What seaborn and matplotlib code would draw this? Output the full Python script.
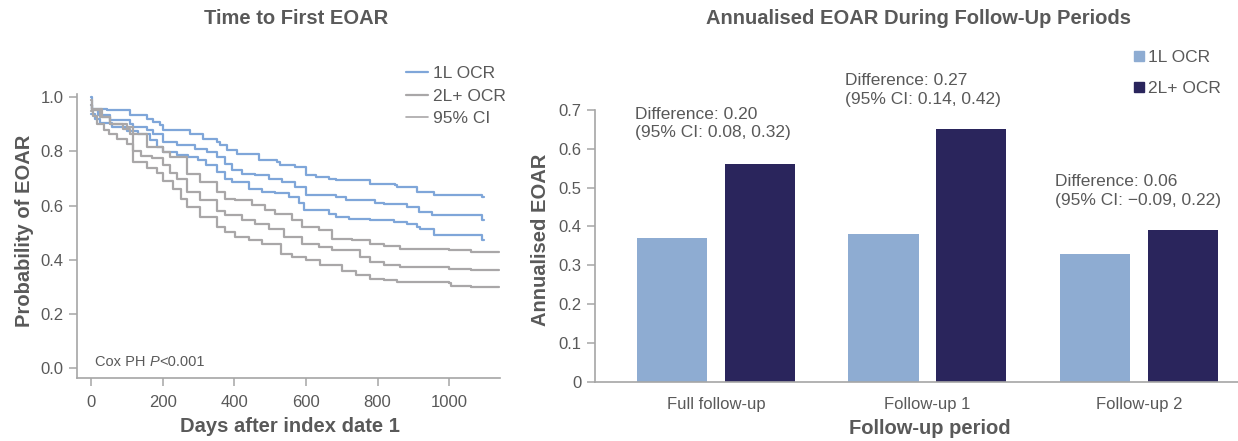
import numpy as np
import pandas as pd
import matplotlib
matplotlib.use("Agg")
import matplotlib.pyplot as plt
from matplotlib.lines import Line2D
from matplotlib.offsetbox import TextArea, HPacker, AnchoredOffsetbox
import seaborn as sns

# ---- Kaplan-Meier style curves: (day, probability) step points ----
ocr1_upper_days = [0, 3, 44, 109, 156, 174, 193, 202, 277, 314, 352, 361, 379, 408, 468, 519,
                   529, 571, 599, 627, 664, 683, 780, 850, 855, 911, 958, 1093, 1097]
ocr1_upper_prob = [1.0, 0.958, 0.952, 0.934, 0.921, 0.909, 0.897, 0.878, 0.866, 0.847, 0.835,
                   0.823, 0.804, 0.792, 0.770, 0.761, 0.749, 0.743, 0.712, 0.706, 0.700, 0.694,
                   0.681, 0.675, 0.669, 0.651, 0.638, 0.632, 0.632]

ocr1_est_days = [0, 2, 20, 53, 109, 118, 156, 174, 202, 240, 290, 324, 352, 375, 394, 421,
                 459, 496, 533, 571, 599, 683, 711, 794, 818, 883, 916, 953, 1093, 1097]
ocr1_est_prob = [0.97, 0.952, 0.934, 0.915, 0.903, 0.891, 0.878, 0.866, 0.835, 0.823, 0.810,
                 0.798, 0.780, 0.755, 0.731, 0.718, 0.712, 0.700, 0.688, 0.669, 0.638, 0.632,
                 0.620, 0.611, 0.607, 0.595, 0.577, 0.565, 0.548, 0.548]

ocr1_lower_days = [0, 11, 25, 58, 100, 130, 165, 185, 200, 240, 270, 300, 320, 352, 375, 394,
                   440, 477, 515, 552, 580, 594, 664, 683, 720, 780, 845, 883, 911, 920, 958,
                   1093, 1097]
ocr1_lower_prob = [0.94, 0.921, 0.905, 0.890, 0.875, 0.866, 0.841, 0.817, 0.798, 0.786, 0.780,
                   0.767, 0.749, 0.724, 0.700, 0.688, 0.663, 0.651, 0.645, 0.632, 0.608, 0.583,
                   0.571, 0.559, 0.552, 0.546, 0.540, 0.534, 0.521, 0.512, 0.491, 0.472, 0.472]

ocr2_upper_days = [0, 2, 30, 53, 100, 118, 156, 202, 221, 268, 305, 352, 375, 403, 449, 487,
                   515, 561, 589, 636, 673, 729, 780, 818, 864, 1000, 1060, 1139]
ocr2_upper_prob = [0.99, 0.958, 0.926, 0.902, 0.890, 0.866, 0.817, 0.798, 0.780, 0.718, 0.688,
                   0.651, 0.626, 0.620, 0.601, 0.583, 0.571, 0.546, 0.521, 0.509, 0.478, 0.472,
                   0.457, 0.450, 0.441, 0.435, 0.429, 0.429]

ocr2_est_days = [0, 2, 25, 53, 90, 110, 118, 140, 170, 200, 221, 240, 268, 305, 352, 375, 421,
                 459, 496, 540, 589, 636, 673, 750, 780, 818, 864, 1000, 1060, 1139]
ocr2_est_prob = [0.97, 0.952, 0.926, 0.902, 0.884, 0.866, 0.800, 0.785, 0.775, 0.750, 0.720,
                 0.700, 0.651, 0.620, 0.580, 0.565, 0.546, 0.534, 0.515, 0.485, 0.460, 0.448,
                 0.435, 0.410, 0.392, 0.382, 0.374, 0.368, 0.362, 0.362]

ocr2_lower_days = [0, 5, 16, 35, 50, 72, 100, 118, 156, 184, 202, 230, 250, 268, 305, 352, 375,
                   403, 440, 477, 530, 561, 600, 640, 700, 740, 780, 818, 855, 1000, 1005,
                   1060, 1139]
ocr2_lower_prob = [0.95, 0.930, 0.902, 0.880, 0.866, 0.845, 0.829, 0.760, 0.740, 0.720, 0.690,
                   0.660, 0.625, 0.595, 0.558, 0.521, 0.503, 0.485, 0.472, 0.460, 0.423, 0.411,
                   0.400, 0.380, 0.360, 0.345, 0.331, 0.325, 0.319, 0.313, 0.303, 0.300, 0.300]

# ---- Annualised EOAR bars ----
periods = ["Full follow-up", "Follow-up 1", "Follow-up 2"]
groups = ["1L OCR", "2L+ OCR"]
eoar_1l = [0.37, 0.38, 0.33]
eoar_2l = [0.56, 0.65, 0.39]
diff_text = ["Difference: 0.20\n(95% CI: 0.08, 0.32)",
             "Difference: 0.27\n(95% CI: 0.14, 0.42)",
             "Difference: 0.06\n(95% CI: \u22120.09, 0.22)"]

BLUE_LINE = "#7fa6d9"
GRAY_LINE = "#a9a7a8"
LIGHT_BAR = "#8eacd2"
DARK_BAR = "#2a255c"
TEXT = "#595959"
SPINE = "#a6a6a6"

W, H = 1238, 441

sns.set_theme(style="white")
plt.rcParams["font.family"] = ["Liberation Sans", "DejaVu Sans"]

fig = plt.figure(figsize=(W / 100, H / 100), dpi=100)
ax1 = fig.add_axes([77 / W, 1 - 378 / H, (500 - 77) / W, (378 - 94) / H])
ax2 = fig.add_axes([595 / W, 1 - 381.5 / H, (W - 595) / W, (381.5 - 110) / H])

# ---- left panel: survival curves ----
curves = [
    ("1L upper", ocr1_upper_days, ocr1_upper_prob, BLUE_LINE),
    ("1L est", ocr1_est_days, ocr1_est_prob, BLUE_LINE),
    ("1L lower", ocr1_lower_days, ocr1_lower_prob, BLUE_LINE),
    ("2L upper", ocr2_upper_days, ocr2_upper_prob, GRAY_LINE),
    ("2L est", ocr2_est_days, ocr2_est_prob, GRAY_LINE),
    ("2L lower", ocr2_lower_days, ocr2_lower_prob, GRAY_LINE),
]
for name, d, p, c in curves:
    df = pd.DataFrame({"day": d, "prob": p})
    sns.lineplot(data=df, x="day", y="prob", ax=ax1, color=c, lw=1.6,
                 drawstyle="steps-post", estimator=None, sort=False)

ax1.set_xlim(-39, 1142)
ax1.set_ylim(-0.036, 1.012)
ax1.set_xticks([0, 200, 400, 600, 800, 1000])
ax1.set_yticks([0.0, 0.2, 0.4, 0.6, 0.8, 1.0])
ax1.set_yticklabels(["0.0", "0.2", "0.4", "0.6", "0.8", "1.0"])
ax1.set_xlabel("Days after index date 1", fontsize=14.5, fontweight="bold", color=TEXT)
ax1.set_ylabel("Probability of EOAR", fontsize=14.5, fontweight="bold", color=TEXT)
ax1.xaxis.set_label_coords((290 - 77) / 423, -(427 - 378) / 284)
ax1.xaxis.label.set_va("center")
ax1.yaxis.set_label_coords(-(77 - 25) / 423, (378 - 231) / 284)
ax1.yaxis.label.set_va("center")

# "Cox PH P<0.001" with an italic P
cox = HPacker(children=[
    TextArea("Cox PH ", textprops=dict(fontsize=10.5, color=TEXT)),
    TextArea("P", textprops=dict(fontsize=10.5, color=TEXT, style="italic")),
    TextArea("<0.001", textprops=dict(fontsize=10.5, color=TEXT)),
], pad=0, sep=0, align="baseline")
ax1.add_artist(AnchoredOffsetbox(loc="center left", child=cox, frameon=False, pad=0,
                                 borderpad=0, bbox_to_anchor=(11, 0.024),
                                 bbox_transform=ax1.transData))

leg_handles = [Line2D([], [], color=BLUE_LINE, lw=1.6),
               Line2D([], [], color=GRAY_LINE, lw=1.6),
               Line2D([], [], color=GRAY_LINE, lw=1.2)]
fig.legend(leg_handles, ["1L OCR", "2L+ OCR", "95% CI"], loc="upper left",
           bbox_to_anchor=(406 / W, 1 - 66 / H), frameon=False, fontsize=12.5,
           labelcolor=TEXT, handlelength=1.25, handletextpad=0.3, labelspacing=0.42,
           borderpad=0, borderaxespad=0)

# ---- right panel: grouped bars ----
bar_df = pd.DataFrame({
    "period": periods * 2,
    "group": [groups[0]] * 3 + [groups[1]] * 3,
    "eoar": eoar_1l + eoar_2l,
})
sns.barplot(data=bar_df, x="period", y="eoar", hue="group", order=periods, hue_order=groups,
            palette=[LIGHT_BAR, DARK_BAR], width=0.83, gap=0.2, ax=ax2, legend=False,
            saturation=1, edgecolor="none")

ax2.set_xlim(-0.572, 2.468)
ax2.set_ylim(0, 0.7)
ax2.set_yticks(np.arange(0, 0.71, 0.1))
ax2.set_yticklabels(["0", "0.1", "0.2", "0.3", "0.4", "0.5", "0.6", "0.7"])
ax2.set_xlabel("Follow-up period", fontsize=14.5, fontweight="bold", color=TEXT)
ax2.set_ylabel("Annualised EOAR", fontsize=14.5, fontweight="bold", color=TEXT)
ax2.xaxis.set_label_coords((930 - 595) / 643, -(428 - 381.5) / 271.5)
ax2.xaxis.label.set_va("center")
ax2.yaxis.set_label_coords((540 - 595) / 643, (381.5 - 240) / 271.5)
ax2.yaxis.label.set_va("center")

diff_pos = [(-0.383, 0.665), (0.608, 0.751), (1.603, 0.491)]
for (tx, ty), s in zip(diff_pos, diff_text):
    ax2.text(tx, ty, s, fontsize=12.5, color=TEXT, ha="left", va="center", linespacing=1.32,
             clip_on=False)

bar_handles = [Line2D([], [], ls="none", marker="s", markersize=7.5, color=LIGHT_BAR),
               Line2D([], [], ls="none", marker="s", markersize=7.5, color=DARK_BAR)]
fig.legend(bar_handles, groups, loc="upper left", bbox_to_anchor=(1132 / W, 1 - 50 / H),
           frameon=False, fontsize=12.5, labelcolor=TEXT, handlelength=0.75,
           handletextpad=0.2, labelspacing=0.9, borderpad=0, borderaxespad=0)

# ---- panel titles ----
fig.text(296 / W, 1 - 18 / H, "Time to First EOAR", fontsize=14.5, fontweight="bold",
         color=TEXT, ha="center", va="center")
fig.text(919 / W, 1 - 18 / H, "Annualised EOAR During Follow-Up Periods", fontsize=14.5,
         fontweight="bold", color=TEXT, ha="center", va="center")

for ax in (ax1, ax2):
    sns.despine(ax=ax)
    for side in ("left", "bottom"):
        ax.spines[side].set_color(SPINE)
        ax.spines[side].set_linewidth(1.2)
    ax.tick_params(axis="both", colors=SPINE, labelcolor=TEXT, labelsize=12,
                   direction="out", length=6, width=1.1)
ax1.tick_params(axis="both", which="both", left=True, bottom=True)
ax1.tick_params(axis="x", pad=6)
ax2.tick_params(axis="y", left=True)
ax2.tick_params(axis="x", bottom=False, pad=5)

fig.savefig("out.png", dpi=100)
